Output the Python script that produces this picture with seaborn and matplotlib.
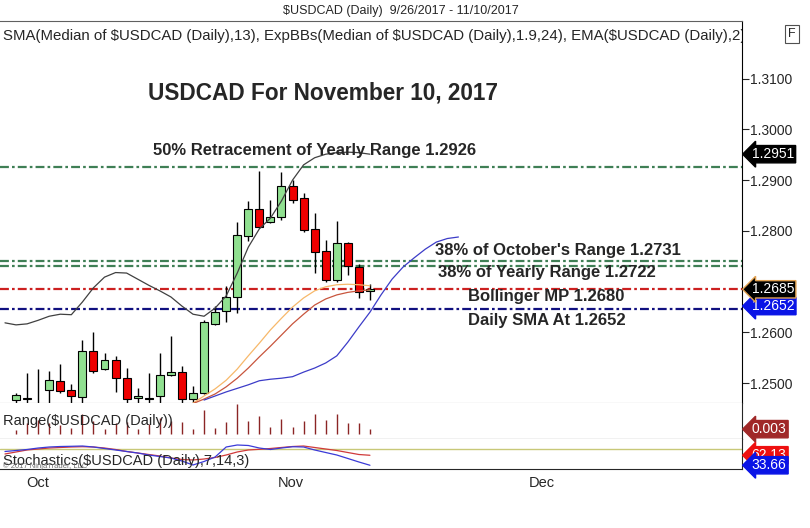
import pandas as pd
import seaborn as sns
import matplotlib.pyplot as plt

# trading days shown on the chart (9/26 is just off the left edge)
days = pd.bdate_range("2017-09-26", "2017-11-22")

# daily candles 9/27/2017 - 11/10/2017
opens = [1.2468, 1.2472, 1.2450, 1.2487, 1.2505, 1.2487, 1.2473, 1.2563, 1.2528, 1.2546,
         1.2510, 1.2471, 1.2472, 1.2474, 1.2516, 1.2523, 1.2469, 1.2481, 1.2617, 1.2642,
         1.2670, 1.2789, 1.2843, 1.2818, 1.2828, 1.2888, 1.2864, 1.2803, 1.2760, 1.2703,
         1.2777, 1.2728, 1.2681]
highs = [1.2481, 1.2521, 1.2528, 1.2525, 1.2537, 1.2498, 1.2585, 1.2600, 1.2560, 1.2553,
         1.2530, 1.2490, 1.2521, 1.2559, 1.2593, 1.2534, 1.2495, 1.2625, 1.2652, 1.2692,
         1.2818, 1.2859, 1.2917, 1.2861, 1.2915, 1.2900, 1.2875, 1.2836, 1.2783, 1.2819,
         1.2778, 1.2735, 1.2695]
lows = [1.2455, 1.2455, 1.2440, 1.2460, 1.2480, 1.2462, 1.2462, 1.2521, 1.2526, 1.2483,
        1.2455, 1.2460, 1.2462, 1.2462, 1.2515, 1.2462, 1.2462, 1.2478, 1.2615, 1.2621,
        1.2638, 1.2780, 1.2805, 1.2815, 1.2822, 1.2854, 1.2798, 1.2717, 1.2700, 1.2700,
        1.2713, 1.2668, 1.2664]
closes = [1.2477, 1.2469, 1.2458, 1.2506, 1.2485, 1.2474, 1.2564, 1.2524, 1.2546, 1.2510,
          1.2469, 1.2475, 1.2469, 1.2516, 1.2522, 1.2469, 1.2480, 1.2621, 1.2640, 1.2669,
          1.2791, 1.2843, 1.2807, 1.2827, 1.2888, 1.2861, 1.2802, 1.2759, 1.2703, 1.2776,
          1.2730, 1.2680, 1.2685]

# indicator lines
upper_band = [1.2619, 1.2615, 1.2617, 1.2624, 1.2632, 1.2636, 1.2635, 1.2660, 1.2688, 1.2709,
              1.2718, 1.2717, 1.2705, 1.2693, 1.2682, 1.2670, 1.2652, 1.2636, 1.2632, 1.2648,
              1.2672, 1.2717, 1.2768, 1.2804, 1.2825, 1.2859, 1.2900, 1.2930, 1.2944, 1.2951,
              1.2954, 1.2955, 1.2954, 1.2951]  # 9/26 - 11/10
ema_line = [1.2461, 1.2475, 1.2489, 1.2506, 1.2528, 1.2554, 1.2579, 1.2605, 1.2628, 1.2650,
            1.2668, 1.2682, 1.2690, 1.2694, 1.2695, 1.2694, 1.2692]  # 10/19 - 11/10
mid_band = [1.2460, 1.2469, 1.2479, 1.2493, 1.2510, 1.2530, 1.2552, 1.2573, 1.2595, 1.2617,
            1.2636, 1.2654, 1.2666, 1.2674, 1.2679, 1.2682, 1.2684]  # 10/19 - 11/10
lower_band = [1.2467, 1.2475, 1.2483, 1.2490, 1.2497, 1.2505, 1.2508, 1.2510, 1.2513, 1.2522,
              1.2530, 1.2540, 1.2554, 1.2581, 1.2611, 1.2640, 1.2674, 1.2705, 1.2729, 1.2747,
              1.2764, 1.2778, 1.2785, 1.2788]  # 10/20 - 11/22 (shifted forward)

# horizontal levels
level_vals = [1.2926, 1.2741, 1.2731, 1.2686, 1.2647]
level_cols = ["#3f7f55", "#3f7f55", "#3f7f55", "#cc2020", "#101080"]
level_text = ["50% Retracement of Yearly Range 1.2926", "38% of October's Range 1.2731",
              "38% of Yearly Range 1.2722", "Bollinger MP 1.2680", "Daily SMA At 1.2652"]

# range panel 9/27 - 11/10
ranges = [0.0026, 0.0066, 0.0088, 0.0065, 0.0057, 0.0036, 0.0123, 0.0079, 0.0034, 0.0070,
          0.0075, 0.0030, 0.0059, 0.0097, 0.0078, 0.0072, 0.0033, 0.0147, 0.0037, 0.0071,
          0.0180, 0.0079, 0.0112, 0.0046, 0.0093, 0.0046, 0.0077, 0.0119, 0.0083, 0.0119,
          0.0065, 0.0067, 0.0031]

# stochastics 9/26 - 11/10
stoch_k = [72.9, 75.7, 78.6, 82.8, 85.7, 87.1, 87.7, 88.5, 85.7, 81.4, 77.2, 72.9, 68.6, 62.9,
           58.6, 54.4, 45.8, 34.4, 44.4, 57.2, 85.7, 91.4, 90.0, 82.8, 78.6, 82.8, 86.5, 85.7,
           77.2, 70.0, 62.9, 53.0, 43.0, 33.66]
stoch_d = [65.8, 71.5, 77.2, 80.0, 82.8, 84.3, 85.7, 86.5, 85.7, 82.8, 78.6, 72.9, 68.6, 64.3,
           60.1, 54.4, 50.1, 48.7, 51.5, 55.8, 62.9, 71.5, 77.2, 79.1, 81.4, 84.3, 87.1, 88.5,
           84.3, 80.0, 75.7, 70.0, 64.3, 62.13]

price_ticks = [1.25, 1.26, 1.28, 1.29, 1.30, 1.31]
month_labels = ["Oct", "Nov", "Dec"]

sns.set_style("white")
plt.rcParams["font.family"] = ["Liberation Sans", "DejaVu Sans"]

pos = pd.Series(range(len(days)), index=days)
candles = pd.DataFrame({"open": opens, "high": highs, "low": lows, "close": closes,
                        "range": ranges}, index=days[1:34])
candles["pos"] = pos[candles.index].values
up = candles[candles.close >= candles.open]
dn = candles[candles.close < candles.open]

W, H = 810, 528
fig = plt.figure(figsize=(8.1, 5.28), dpi=100)


def rect(x0, y0, x1, y1):
    return [x0 / W, 1 - y1 / H, (x1 - x0) / W, (y1 - y0) / H]


ax = fig.add_axes(rect(0, 21, 742, 403))
ax_r = fig.add_axes(rect(0, 403, 742, 439), sharex=ax)
ax_s = fig.add_axes(rect(0, 439, 742, 469), sharex=ax)

# --- price panel ---
for v, c in zip(level_vals, level_cols):
    ax.axhline(v, color=c, lw=1.6, ls=(0, (4, 1.4, 1.2, 1.4)), zorder=1)

lines = [(days[0:34], upper_band, "#404040"), (days[17:34], ema_line, "#f7b86a"),
         (days[17:34], mid_band, "#c8553d"), (days[18:42], lower_band, "#3c3cc8")]
for d, vals, c in lines:
    sns.lineplot(x=pos[d].values, y=vals, ax=ax, color=c, lw=0.9, zorder=4)

ax.vlines(candles.pos, candles.low, candles.high, color="black", lw=1, zorder=2)
ax.bar(up.pos, up.close - up.open, bottom=up.open, width=0.72, color="#90e090",
       edgecolor="black", lw=0.8, zorder=3)
ax.bar(dn.pos, dn.close - dn.open, bottom=dn.open, width=0.72, color="#ee0000",
       edgecolor="black", lw=0.8, zorder=3)

ax.set_xlim(-0.45, 66.64)
ax.set_ylim(1.24612, 1.32132)
ax.yaxis.tick_right()
ax.set_yticks(price_ticks)
ax.set_yticklabels([f"{t:.4f}" for t in price_ticks])
ax.tick_params(axis="y", direction="out", length=5, width=0.8, pad=1, labelsize=10)
ax.tick_params(axis="x", bottom=False, labelbottom=False)
ax.set_xlabel("")
ax.set_ylabel("")
ax.spines["left"].set_visible(False)
ax.spines["bottom"].set_color("#909090")
ax.spines["top"].set_color("#606060")
ax.spines["right"].set_color("black")

ax.text(0.004, 0.962, "SMA(Median of $USDCAD (Daily),13), ExpBBs(Median of $USDCAD (Daily),1.9,24), "
        "EMA($USDCAD (Daily),2)", transform=ax.transAxes, fontsize=10.8, va="center",
        ha="left", clip_on=True)


def tag(axis, y, txt, fc, ec=None):
    axis.annotate(txt, xy=(1, y), xycoords=("axes fraction", "data"), xytext=(7, 0),
                  textcoords="offset points", ha="left", va="center", color="white",
                  fontsize=10, annotation_clip=False, zorder=10,
                  bbox=dict(boxstyle="larrow,pad=0.12", fc=fc, ec=ec or fc, lw=1))


tag(ax, 1.2951, "1.2951", "black")
tag(ax, 1.2652, "1.2652", "#0a14e6")
tag(ax, 1.2685, "1.2685", "black", "#e0a050")

# --- range panel ---
ax_r.vlines(candles.pos, 0, candles["range"], color="#8b2525", lw=1)
ax_r.set_ylim(-0.0028, 0.01878)
ax_r.set_yticks([])
ax_r.tick_params(axis="x", bottom=False, labelbottom=False)
ax_r.spines["left"].set_visible(False)
ax_r.spines["top"].set_visible(False)
ax_r.spines["bottom"].set_color("black")
ax_r.text(0.004, 0.5, "Range($USDCAD (Daily))", transform=ax_r.transAxes, fontsize=10.5,
          va="center", ha="left")
tag(ax_r, 0.0031, "0.003", "#a02828")

# --- stochastics panel ---
ax_s.axhline(80, color="#c8c878", lw=1)
sns.lineplot(x=pos[days[0:34]].values, y=stoch_d, ax=ax_s, color="#d03a3a", lw=0.9)
sns.lineplot(x=pos[days[0:34]].values, y=stoch_k, ax=ax_s, color="#3a3ad8", lw=0.9)
ax_s.set_ylim(23, 108.5)
ax_s.set_yticks([])
ax_s.set_ylabel("")
ax_s.spines["left"].set_visible(False)
ax_s.spines["top"].set_visible(False)
ax_s.set_xticks([3.0, 25.8, 48.5])
ax_s.set_xticklabels(month_labels)
ax_s.tick_params(axis="x", direction="out", length=4, width=0.8, pad=1, labelsize=10.5)
ax_s.text(0.004, 0.25, "Stochastics($USDCAD (Daily),7,14,3)", transform=ax_s.transAxes,
          fontsize=10.5, va="center", ha="left")
ax_s.text(0.004, 0.1, "\u00a9 2017 NinjaTrader, LLC", transform=ax_s.transAxes, fontsize=5.5,
          color="#707070", va="center", ha="left")
tag(ax_s, 62.13, "62.13", "#ee1010")
tag(ax_s, 33.66, "33.66", "#0a14e6")

# --- titles and notes ---
fig.text(401 / W, 1 - 11 / H, "$USDCAD (Daily)  9/26/2017 - 11/10/2017", fontsize=9,
         ha="center", va="center")
fig.text(792 / W, 1 - 34 / H, "F", fontsize=9, ha="center", va="center",
         bbox=dict(boxstyle="square,pad=0.25", fc="white", ec="#505050", lw=0.8))
fig.text(148 / W, 1 - 93 / H, "USDCAD For November 10, 2017", fontsize=16.3,
         fontweight="bold", ha="left", va="center")
note_xy = [(153, 150), (435, 250), (438, 273), (468, 297), (468, 320)]
for (x, y), t in zip(note_xy, level_text):
    fig.text(x / W, 1 - y / H, t, fontsize=12, fontweight="bold", ha="left", va="center")

fig.savefig("out.png", dpi=100)
